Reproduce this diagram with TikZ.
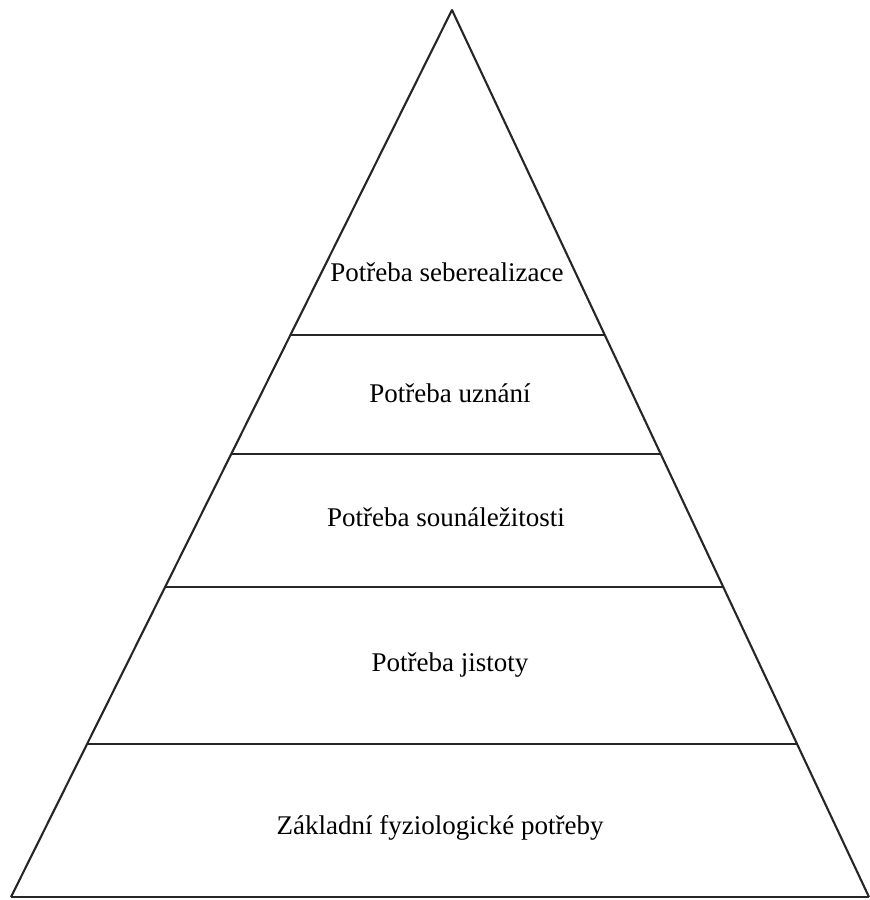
\documentclass[tikz,border=0pt]{standalone}
\usepackage{fontspec}
\setmainfont{Liberation Serif}
\usepackage{tikz}
\usetikzlibrary{calc}

\tikzset{
  level/.style={font=\fontsize{27}{30}\selectfont, inner sep=0pt},
  edge/.style={line width=2.1pt, draw=black!85}
}

\begin{document}
\begin{tikzpicture}[x=1pt,y=-1pt,line join=round]
    \useasboundingbox (0,0) rectangle (870,900);
    \coordinate (top) at (452,10);
    \coordinate (bl) at (11,897);
    \coordinate (br) at (869,897);
    % outline
    \draw[edge] (bl) -- (top) -- (br);
    \draw[edge] (bl) -- (br);
    % dividers
    \foreach \t/\n in {0.366/a,0.501/b,0.651/c,0.828/d}{
      \coordinate (l\n) at ($(top)!\t!(bl)$);
      \coordinate (r\n) at ($(top)!\t!(br)$);
      \draw[edge] (l\n) -- (r\n);
    }
    % labels
    \node[level] (self) at (447,272) {Potřeba seberealizace};
    \node[level] (esteem) at (450,393) {Potřeba uznání};
    \node[level] (belong) at (446,517) {Potřeba sounáležitosti};
    \node[level] (safety) at (450,665) {Potřeba jistoty};
    \node[level] (basic) at (440,828) {Základní fyziologické potřeby};
  \end{tikzpicture}
\end{document}
